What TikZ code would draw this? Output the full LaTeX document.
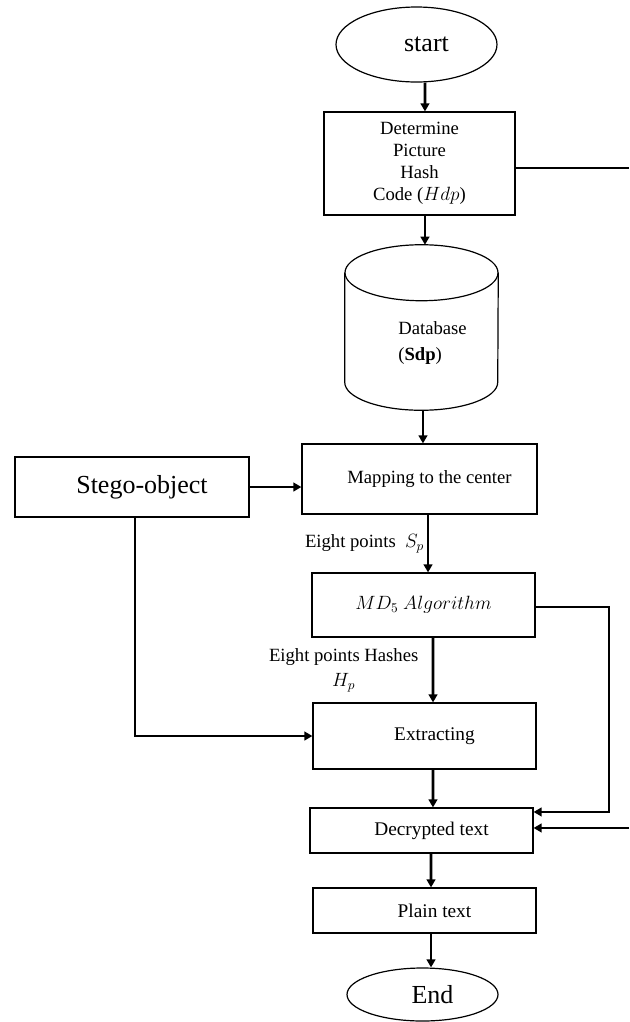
\documentclass[tikz,border=0pt]{standalone}
\usepackage{fontspec}
\setmainfont{Liberation Serif}
\usetikzlibrary{arrows.meta,shapes.geometric,calc}

% moves a single line of box text a little to the right of the box centre
\newcommand\pushright{\hspace*{15pt}}

\tikzset{
  box/.style={draw, line width=0.9pt, rectangle, inner sep=0pt, align=center,
              font=\fontsize{14}{16.5}\selectfont},
  oval/.style={draw, line width=0.9pt, ellipse, inner sep=0pt,
               font=\fontsize{19.5}{22}\selectfont},
  conn/.style={line width=2pt, -{Triangle[length=6pt,width=6.5pt]}},
  wire/.style={line width=2pt},
  lbl/.style={font=\fontsize{14}{18.75}\selectfont, inner sep=2pt, align=center},
}

\begin{document}
\begin{tikzpicture}[x=0.75pt,y=0.75pt]
\useasboundingbox (0,0) rectangle (629,-1022);

% ---- nodes -------------------------------------------------------------
\node[oval, minimum width=120.75pt, minimum height=56.25pt] (start) at (416.5,-44.5) {\pushright start};

\node[box, minimum width=143.25pt, minimum height=77.25pt] (det) at (419.5,-163.5)
  {Determine\\Picture\\Hash\\Code ($Hdp$)};

% database cylinder, drawn inside an invisible frame node
\node[minimum width=114.75pt, minimum height=123.75pt, inner sep=0pt] (db) at (421.5,-327.5) {};
\draw[line width=0.9pt] ([yshift=-21pt]db.north) ellipse [x radius=57.375pt, y radius=21pt];
\draw[line width=0.9pt] ([yshift=-21pt]db.north west) -- ([yshift=21pt]db.south west)
  arc [start angle=180, end angle=360, x radius=57.375pt, y radius=21pt]
  -- ([yshift=-21pt]db.north east);
\node[font=\fontsize{14}{20}\selectfont, align=left, inner sep=0pt] (dbtext) at (432.5,-343)
  {Database\\(\textbf{Sdp})};

\node[box, minimum width=176.25pt, minimum height=52.5pt] (map) at (419.5,-479)
  {\pushright Mapping to the center};

\node[box, minimum width=175.5pt, minimum height=45pt, font=\fontsize{19.5}{22}\selectfont]
  (stego) at (132,-487) {\pushright Stego-object};

\node[box, minimum width=167.25pt, minimum height=48pt] (md5) at (423.5,-605)
  {$MD_5\ Algorithm$};

\node[box, minimum width=167.25pt, minimum height=49.5pt, font=\fontsize{14.5}{17}\selectfont]
  (ext) at (424.5,-736) {\pushright Extracting};

\node[box, minimum width=167.25pt, minimum height=33.75pt, font=\fontsize{14.5}{17}\selectfont]
  (dec) at (421.5,-830.5) {\pushright Decrypted text};

\node[box, minimum width=167.25pt, minimum height=33.75pt, font=\fontsize{14.5}{17}\selectfont]
  (plain) at (424.5,-910.5) {\pushright Plain text};

\node[oval, minimum width=113.25pt, minimum height=39.75pt] (end) at (422.5,-994.5) {\pushright End};

% right-hand bus and the page edge
\coordinate (rbus) at (609,-607);
\coordinate (edge) at (629,0);

% ---- connectors --------------------------------------------------------
\draw[conn] ([xshift=6.4pt]start.south) -- ([xshift=4.1pt]det.north);
\draw[conn] ([xshift=4.1pt]det.south) -- ([xshift=2.6pt]db.north);
\draw[conn] ([xshift=1.1pt]db.south) -- ([xshift=2.6pt]map.north);
\draw[conn] ([xshift=6.4pt]map.south) --
  node[lbl, left] {Eight points \ $S_p$} ([xshift=3.4pt]md5.north);
\draw[conn] ([xshift=7.1pt]md5.south) --
  node[lbl, left=8pt] {Eight points Hashes\\$H_p$} ([xshift=6.4pt]ext.north);
\draw[conn] ([xshift=6.4pt]ext.south) -- ([xshift=8.6pt]dec.north);
\draw[conn] ([xshift=7.1pt]dec.south) -- ([xshift=4.9pt]plain.north);
\draw[conn] ([xshift=4.9pt]plain.south) -- ([xshift=6.4pt]end.north);

\draw[conn] (stego.east) -- (stego.east -| map.west);
\draw[conn] ([xshift=2.25pt]stego.south) |- (ext.west);

\draw[conn] ([yshift=-1.5pt]md5.east) -- ([yshift=-1.5pt]md5.east -| rbus) |- ([yshift=13.9pt]dec.east);

\draw[wire] ([yshift=-3.4pt]det.east) -- ([yshift=-3.4pt]det.east -| edge);
\draw[conn] ([yshift=1.9pt]dec.east -| edge) -- ([yshift=1.9pt]dec.east);
\end{tikzpicture}
\end{document}
